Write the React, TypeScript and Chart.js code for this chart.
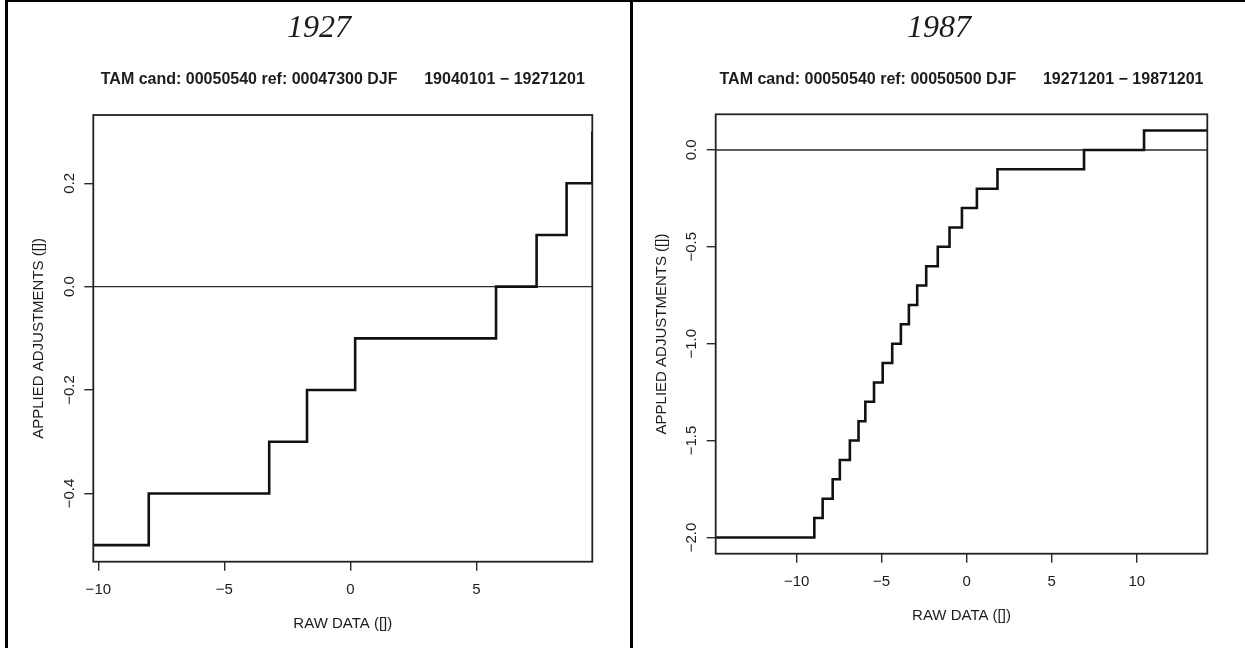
import React, { useEffect, useRef } from "react";
import { Chart, registerables } from "chart.js";

Chart.register(...registerables);

// ---------- data: left panel (1927) ----------
const leftYear = "1927";
const leftTitle = "TAM cand: 00050540 ref: 00047300 DJF      19040101 \u2212 19271201";
const leftStepX = [-10.2, -8.0, -3.22, -1.72, 0.19, 5.78, 7.39, 8.58, 9.6];
const leftStepY = [-0.5, -0.4, -0.3, -0.2, -0.1, 0.0, 0.1, 0.2, 0.3];
const leftXTicks = [-10, -5, 0, 5];
const leftYTicks = [-0.4, -0.2, 0.0, 0.2];
const leftXRange = [-10.2, 9.6];
const leftYRange = [-0.532, 0.332];

// ---------- data: right panel (1987) ----------
const rightYear = "1987";
const rightTitle = "TAM cand: 00050540 ref: 00050500 DJF      19271201 \u2212 19871201";
const rightStepX = [
  -14.76, -8.96, -8.47, -7.88, -7.46, -6.87, -6.36, -5.96, -5.45, -4.94, -4.38,
  -3.87, -3.4, -2.91, -2.38, -1.7, -1.01, -0.28, 0.6, 1.81, 6.9, 10.43, 14.15,
];
const rightStepY = [
  -2.0, -1.9, -1.8, -1.7, -1.6, -1.5, -1.4, -1.3, -1.2, -1.1, -1.0,
  -0.9, -0.8, -0.7, -0.6, -0.5, -0.4, -0.3, -0.2, -0.1, 0.0, 0.1, 0.1,
];
const rightXTicks = [-10, -5, 0, 5, 10];
const rightYTicks = [-2.0, -1.5, -1.0, -0.5, 0.0];
const rightXRange = [-14.76, 14.15];
const rightYRange = [-2.084, 0.184];

const referenceLevel = 0;
const xAxisTitle = "RAW DATA ([])";
const yAxisTitle = "APPLIED ADJUSTMENTS ([])";

const SANS = '"Liberation Sans", Arial, Helvetica, sans-serif';
const SERIF = '"Liberation Serif", "Times New Roman", Times, serif';
const INK = "#1c1c1c";

type PanelCfg = {
  year: string;
  title: string;
  stepX: number[];
  stepY: number[];
  xTicks: number[];
  yTicks: number[];
  xRange: number[];
  yRange: number[];
  padding: { left: number; right: number; top: number; bottom: number };
};

const fmtX = (v: number) => String(v).replace("-", "\u2212");
const fmtY = (v: number) => v.toFixed(1).replace("-", "\u2212");

function Panel({ cfg, left, width }: { cfg: PanelCfg; left: number; width: number }) {
  const ref = useRef<HTMLCanvasElement | null>(null);
  useEffect(() => {
    if (!ref.current) return;
    const deco = {
      id: "rdeco",
      beforeDatasetsDraw(chart: any) {
        const { ctx, chartArea } = chart;
        const y0 = chart.scales.y.getPixelForValue(referenceLevel);
        ctx.save();
        ctx.strokeStyle = "#2a2a2a";
        ctx.lineWidth = 1.4;
        ctx.beginPath();
        ctx.moveTo(chartArea.left, y0);
        ctx.lineTo(chartArea.right, y0);
        ctx.stroke();
        ctx.restore();
      },
      afterDraw(chart: any) {
        const { ctx, chartArea } = chart;
        const xs = chart.scales.x;
        const ys = chart.scales.y;
        ctx.save();
        // box
        ctx.strokeStyle = "#222";
        ctx.lineWidth = 1.8;
        ctx.strokeRect(chartArea.left, chartArea.top, chartArea.right - chartArea.left, chartArea.bottom - chartArea.top);
        ctx.fillStyle = INK;
        // year heading
        ctx.font = `italic 32px ${SERIF}`;
        ctx.textAlign = "center";
        ctx.textBaseline = "alphabetic";
        ctx.fillText(cfg.year, chart.width / 2, 37);
        // main title
        ctx.font = `bold 16px ${SANS}`;
        ctx.fillText(cfg.title, (chartArea.left + chartArea.right) / 2, 83.5);
        // x tick labels
        ctx.font = `15px ${SANS}`;
        cfg.xTicks.forEach((v) => {
          ctx.fillText(fmtX(v), xs.getPixelForValue(v), chartArea.bottom + 32);
        });
        // x title
        ctx.fillText(xAxisTitle, (chartArea.left + chartArea.right) / 2, chartArea.bottom + 66);
        // y tick labels (rotated)
        cfg.yTicks.forEach((v) => {
          ctx.save();
          ctx.translate(chartArea.left - 19.5, ys.getPixelForValue(v));
          ctx.rotate(-Math.PI / 2);
          ctx.fillText(fmtY(v), 0, 0);
          ctx.restore();
        });
        // y title
        ctx.save();
        ctx.translate(chartArea.left - 50, (chartArea.top + chartArea.bottom) / 2);
        ctx.rotate(-Math.PI / 2);
        ctx.fillText(yAxisTitle, 0, 0);
        ctx.restore();
        ctx.restore();
      },
    };

    const chart = new Chart(ref.current, {
      type: "line",
      data: {
        datasets: [
          {
            data: cfg.stepX.map((x, i) => ({ x, y: cfg.stepY[i] })),
            stepped: true,
            borderColor: "#111",
            borderWidth: 2.6,
            pointRadius: 0,
            fill: false,
          },
        ],
      },
      options: {
        animation: false,
        responsive: false,
        events: [],
        layout: { padding: cfg.padding },
        plugins: { legend: { display: false }, tooltip: { enabled: false }, title: { display: false } },
        scales: {
          x: {
            type: "linear",
            min: cfg.xRange[0],
            max: cfg.xRange[1],
            afterBuildTicks: (s: any) => {
              s.ticks = cfg.xTicks.map((value) => ({ value }));
            },
            afterFit: (s: any) => {
              s.height = 0;
            },
            ticks: { display: false },
            grid: { display: true, drawOnChartArea: false, drawTicks: true, tickLength: 9, color: "#2a2a2a", lineWidth: 1.4 },
            border: { display: false },
          },
          y: {
            type: "linear",
            min: cfg.yRange[0],
            max: cfg.yRange[1],
            afterBuildTicks: (s: any) => {
              s.ticks = cfg.yTicks.map((value) => ({ value }));
            },
            afterFit: (s: any) => {
              s.width = 0;
            },
            ticks: { display: false },
            grid: { display: true, drawOnChartArea: false, drawTicks: true, tickLength: 9, color: "#2a2a2a", lineWidth: 1.4 },
            border: { display: false },
          },
        },
      } as any,
      plugins: [deco],
    });
    return () => chart.destroy();
  }, [cfg]);

  return (
    <canvas
      ref={ref}
      width={width}
      height={648}
      style={{ position: "absolute", left, top: 0, width, height: 648 }}
    />
  );
}

const leftCfg: PanelCfg = {
  year: leftYear,
  title: leftTitle,
  stepX: leftStepX,
  stepY: leftStepY,
  xTicks: leftXTicks,
  yTicks: leftYTicks,
  xRange: leftXRange,
  yRange: leftYRange,
  padding: { left: 85.3, right: 37.7, top: 115, bottom: 86.3 },
};

const rightCfg: PanelCfg = {
  year: rightYear,
  title: rightTitle,
  stepX: rightStepX,
  stepY: rightStepY,
  xTicks: rightXTicks,
  yTicks: rightYTicks,
  xRange: rightXRange,
  yRange: rightYRange,
  padding: { left: 82.7, right: 37.7, top: 114.3, bottom: 94.3 },
};

export default function App() {
  return (
    <div style={{ position: "absolute", left: 0, top: 0, width: 1245, height: 648, background: "#fff", overflow: "hidden" }}>
      <Panel cfg={leftCfg} left={8} width={622} />
      <Panel cfg={rightCfg} left={633} width={612} />
      <div style={{ position: "absolute", left: 5, top: 0, width: 1240, height: 2, background: "#000" }} />
      <div style={{ position: "absolute", left: 5, top: 0, width: 3, height: 648, background: "#000" }} />
      <div style={{ position: "absolute", left: 630, top: 0, width: 3, height: 648, background: "#000" }} />
    </div>
  );
}
